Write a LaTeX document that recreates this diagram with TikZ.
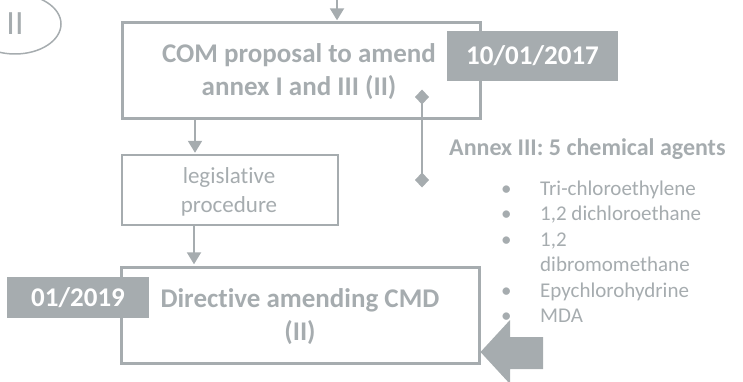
\documentclass[tikz,border=0pt]{standalone}
\usepackage{fontspec}
\setmainfont{Carlito}[Ligatures={NoCommon,NoContextual}]
\usetikzlibrary{arrows.meta,shapes.geometric}
\definecolor{ink}{RGB}{166,172,175}

\tikzset{
  heavybox/.style={draw=ink, line width=3pt, inner sep=0pt},
  lightbox/.style={draw=ink, line width=2pt, inner sep=0pt},
  headtext/.style={anchor=base, inner sep=0pt, text=ink,
    font=\fontsize{27}{32.5}\selectfont\bfseries},
  plaintext/.style={anchor=base, inner sep=0pt, text=ink,
    font=\fontsize{23}{29}\selectfont},
  datebox/.style={fill=ink, inner sep=0pt, text=white,
    font=\fontsize{27}{33}\selectfont\bfseries},
  conn/.style={draw=ink, line width=2pt, shorten >=1.2pt,
    -{Triangle[width=14pt,length=12pt]}},
  diamline/.style={draw=ink, line width=1.5pt,
    {Diamond[width=14pt,length=15pt]}-{Diamond[width=14pt,length=15pt]}},
}

\begin{document}
\begin{tikzpicture}[x=1pt,y=-1pt]
  \useasboundingbox (0,0) rectangle (743,382);

  % phase tag
  \node[draw=ink, line width=1.5pt, ellipse, inner sep=0pt,
        minimum width=92pt, minimum height=60pt, text=ink,
        font=\fontsize{34}{40}\selectfont] (tag) at (15,24) {II};

  % main flow boxes
  \node[heavybox, minimum width=358pt, minimum height=96pt] (com) at (301,71) {};
  \node[lightbox, minimum width=216pt, minimum height=70pt] (leg) at (230,190) {};
  \node[heavybox, minimum width=358pt, minimum height=96pt] (dir) at (300,315) {};

  % box captions (anchored on the first baseline)
  \node[headtext] (comtext) at (299,63)
    {\begin{tabular}[t]{@{}c@{}}COM proposal to amend\\annex I and III (II)\end{tabular}};
  \node[plaintext] (legtext) at (229,183)
    {\begin{tabular}[t]{@{}c@{}}legislative\\procedure\end{tabular}};
  \node[headtext] (dirtext) at (300,307.5)
    {\begin{tabular}[t]{@{}c@{}}Directive amending CMD\\(II)\end{tabular}};

  % dates
  \node[datebox, minimum width=171pt, minimum height=50pt] (d17) at (532.5,56) {10/01/2017};
  \node[datebox, minimum width=142pt, minimum height=41pt] (d19) at (78,297.5) {01/2019};

  % connectors
  \coordinate (in) at (337,0);
  \draw[conn] (in) -- (in |- com.north);
  \coordinate (a1) at (195,0);
  \draw[conn] (a1 |- com.south) -- (a1 |- leg.north);
  \coordinate (a2) at (194,0);
  \draw[conn] (a2 |- leg.south) -- (a2 |- dir.north);

  % annex link
  \coordinate (k1) at (422,97);
  \coordinate (k2) at (422,180);
  \draw[diamline] ([yshift=7.5pt]k1) -- ([yshift=-7.5pt]k2);

  % annex content
  \node[anchor=base west, inner sep=0pt, text=ink,
        font=\fontsize{24}{29}\selectfont\bfseries] (annex) at (449,156)
    {Annex III: 5 chemical agents};
  \node[anchor=base west, inner sep=0pt, text=ink,
        font=\fontsize{21}{25.5}\selectfont] (agents) at (501,195)
    {\begin{tabular}[t]{@{}p{39pt}@{}l@{}}
      \textbullet & Tri-chloroethylene\\
      \textbullet & 1,2 dichloroethane\\
      \textbullet & 1,2\\
                  & dibromomethane\\
      \textbullet & Epychlorohydrine\\
      \textbullet & MDA
    \end{tabular}};

  % block arrow into the directive
  \fill[ink] (dir.east |- 0,352) -- (510,320) -- (510,337) -- (543,337)
    -- (543,369) -- (510,369) -- (510,384) -- cycle;
\end{tikzpicture}
\end{document}
